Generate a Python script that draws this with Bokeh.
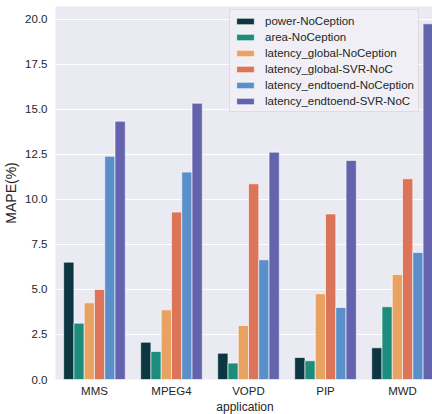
from bokeh.plotting import figure
from bokeh.models import ColumnDataSource, FixedTicker, NumeralTickFormatter, Legend, LegendItem, Range1d
from bokeh.transform import dodge
from bokeh.embed import file_html
from bokeh.resources import INLINE

apps = ["MMS", "MPEG4", "VOPD", "PIP", "MWD"]
series = ["power-NoCeption", "area-NoCeption", "latency_global-NoCeption",
          "latency_global-SVR-NoC", "latency_endtoend-NoCeption", "latency_endtoend-SVR-NoC"]
power_noc = [6.52, 2.07, 1.46, 1.22, 1.76]
area_noc = [3.13, 1.56, 0.91, 1.04, 4.04]
lat_global_noc = [4.26, 3.87, 3.00, 4.76, 5.83]
lat_global_svr = [5.00, 9.30, 10.87, 9.20, 11.15]
lat_e2e_noc = [12.40, 11.52, 6.65, 4.00, 7.06]
lat_e2e_svr = [14.35, 15.35, 12.63, 12.17, 19.76]
values = [power_noc, area_noc, lat_global_noc, lat_global_svr, lat_e2e_noc, lat_e2e_svr]
colors = ["#0c3641", "#1e8c7c", "#e8a363", "#db7458", "#5b8fca", "#6463ae"]
yticks = [0, 2.5, 5, 7.5, 10, 12.5, 15, 17.5, 20]

FONT = "Liberation Sans"
TXT = "#262626"

data = {"xi": list(range(len(apps)))}
for name, vals in zip(series, values):
    data[name] = vals
src = ColumnDataSource(data)

p = figure(frame_width=379, frame_height=373, output_backend="svg", toolbar_location=None,
           x_range=Range1d(-0.506, 4.415), y_range=Range1d(0, 20.72),
           min_border_left=53, min_border_right=0, min_border_top=6, min_border_bottom=0)
p.background_fill_color = "#EAEAF2"
p.border_fill_color = "white"
p.outline_line_color = None

n = len(series)
w = 0.8 / n
items = []
for j, (name, col) in enumerate(zip(series, colors)):
    off = (j - (n - 1) / 2) * w
    r = p.vbar(x=dodge("xi", off, range=p.x_range), top=name, width=w, source=src,
               fill_color=col, line_color="white", line_width=0.6)
    items.append(LegendItem(label=name, renderers=[r]))

# grids
p.xgrid.grid_line_color = None
p.ygrid.grid_line_color = "white"
p.ygrid.grid_line_width = 1
p.ygrid.ticker = FixedTicker(ticks=yticks)

# axes
p.yaxis.ticker = FixedTicker(ticks=yticks)
p.yaxis.formatter = NumeralTickFormatter(format="0.0")
p.xaxis.ticker = FixedTicker(ticks=list(range(len(apps))))
p.xaxis.major_label_overrides = {i: a for i, a in enumerate(apps)}
for ax in (p.xaxis[0], p.yaxis[0]):
    ax.axis_line_color = None
    ax.major_tick_line_color = None
    ax.minor_tick_line_color = None
    ax.major_tick_out = 0
    ax.major_tick_in = 0
    ax.major_label_text_font = FONT
    ax.major_label_text_font_size = "11.5px"
    ax.major_label_text_color = TXT
    ax.axis_label_text_font = FONT
    ax.axis_label_text_color = TXT
p.yaxis.axis_label = "MAPE(%)"
p.xaxis.axis_label = "application"
p.xaxis.axis_label_text_font_size = "12px"
p.xaxis.axis_label_text_font_style = "normal"
p.yaxis.axis_label_text_font_size = "14px"
p.yaxis.axis_label_text_font_style = "normal"
p.yaxis.major_label_standoff = 8
p.xaxis.major_label_standoff = 5
p.yaxis.axis_label_standoff = 3
p.xaxis.axis_label_standoff = 0

legend = Legend(items=items, location=(174, 267))
legend.label_text_font = FONT
legend.label_text_font_size = "11.5px"
legend.label_text_color = TXT
legend.glyph_width = 22
legend.glyph_height = 8
legend.label_standoff = 9
legend.label_height = 13
legend.spacing = 3
legend.padding = 4
legend.margin = 0
legend.border_line_color = "#cccccc"
legend.border_line_width = 1
legend.background_fill_color = "#f0f0f6"
legend.background_fill_alpha = 0.85
p.add_layout(legend)

open("out.html", "w").write(file_html(p, INLINE))
